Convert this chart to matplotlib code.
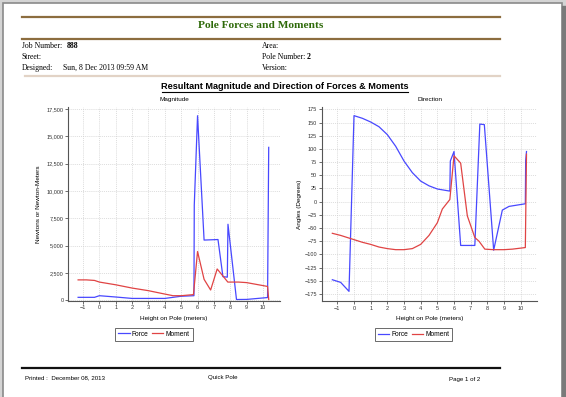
import matplotlib
matplotlib.use("Agg")
import matplotlib.pyplot as plt
from matplotlib.patches import Rectangle
from matplotlib.ticker import FuncFormatter, MultipleLocator

# ---------------- data ----------------
mag_force_x = [-1.3, -0.3, 0.0, 1.0, 2.0, 3.0, 4.0, 5.0, 5.78, 5.8, 6.0, 6.4, 7.25, 7.55, 7.82, 7.86, 8.38, 9.0, 10.28, 10.35]
mag_force_y = [250, 250, 400, 280, 150, 150, 150, 350, 400, 8700, 16900, 5500, 5550, 2150, 2100, 6950, 50, 60, 230, 14000]

mag_moment_x = [-1.3, -0.8, -0.3, 0.0, 1.0, 2.0, 3.0, 4.0, 4.5, 5.0, 5.75, 6.0, 6.4, 6.8, 7.2, 7.5, 7.85, 8.5, 9.0, 10.28, 10.35]
mag_moment_y = [1850, 1850, 1800, 1650, 1400, 1100, 860, 550, 400, 400, 500, 4450, 1900, 920, 2850, 2300, 1650, 1650, 1600, 1250, 50]

dir_force_x = [-1.3, -0.8, -0.3, 0.0, 0.5, 1.0, 1.5, 2.0, 2.5, 3.0, 3.5, 4.0, 4.5, 5.0, 5.75, 5.78, 6.0, 6.4, 7.25, 7.55, 7.82, 8.38, 8.9, 9.3, 10.28, 10.3, 10.35]
dir_force_y = [-148, -153, -170, 163, 158, 151, 142, 127, 105, 77, 55, 39, 30, 24, 20, 77, 95, -83, -83, 147, 146, -92, -16, -9, -4, 78, 95]

dir_moment_x = [-1.3, -0.8, -0.3, 0.0, 0.5, 1.0, 1.5, 2.0, 2.5, 3.0, 3.5, 4.0, 4.5, 5.0, 5.3, 5.75, 6.0, 6.4, 6.8, 7.25, 7.5, 7.85, 8.35, 9.0, 9.5, 10.28, 10.35]
dir_moment_y = [-60, -64, -69, -72, -77, -81, -86, -89, -91, -91, -89, -81, -64, -40, -14, 4, 87, 73, -27, -68, -75, -90, -91, -91, -90, -87, 90]

x_ticks = [-1, 0, 1, 2, 3, 4, 5, 6, 7, 8, 9, 10]
series_names = ["Force", "Moment"]

BLUE = "#4848ff"
RED = "#e04444"
W, H = 566, 397

fig = plt.figure(figsize=(W / 100, H / 100), dpi=100)
fig.patch.set_facecolor("white")

# page overlay in pixel coordinates
bg = fig.add_axes([0, 0, 1, 1])
bg.set_xlim(0, W)
bg.set_ylim(H, 0)
bg.axis("off")
bg.set_zorder(-5)
bg.add_patch(Rectangle((0, 0), W, H, color="#d4d4d4", zorder=0))
bg.add_patch(Rectangle((2.5, 2.5), 559, H, facecolor="white", edgecolor="#8a8a8a", lw=1.2, zorder=1))
bg.add_patch(Rectangle((562, 6), 4, H, color="#7a7a7a", zorder=1))

# header lines
bg.plot([22, 500], [17, 17], color="#8c6d3f", lw=1.6, zorder=2)
bg.plot([22, 500], [39, 39], color="#8c6d3f", lw=1.6, zorder=2)
bg.plot([25, 500], [76, 76], color="#e2d3c6", lw=1.6, zorder=2)
bg.plot([22, 500], [368, 368], color="#111111", lw=1.6, zorder=2)

serif = ["Liberation Serif", "DejaVu Serif"]
sans = ["Liberation Sans", "DejaVu Sans"]
bg.text(261, 26, "Pole Forces and Moments", family=serif, fontsize=8.2, weight="bold",
        color="#2f6a0a", ha="center", va="center", zorder=3)
hs = 5.6
bg.text(22, 46, "Job Number:", family=serif, fontsize=hs, va="center", zorder=3)
bg.text(67, 46, "888", family=serif, fontsize=hs, weight="bold", va="center", zorder=3)
bg.text(22, 57, "Street:", family=serif, fontsize=hs, va="center", zorder=3)
bg.text(22, 68, "Designed:", family=serif, fontsize=hs, va="center", zorder=3)
bg.text(63, 68, "Sun, 8 Dec 2013 09:59 AM", family=serif, fontsize=hs, va="center", zorder=3)
bg.text(262, 46, "Area:", family=serif, fontsize=hs, va="center", zorder=3)
bg.text(262, 57, "Pole Number:", family=serif, fontsize=hs, va="center", zorder=3)
bg.text(307, 57, "2", family=serif, fontsize=hs, weight="bold", va="center", zorder=3)
bg.text(262, 68, "Version:", family=serif, fontsize=hs, va="center", zorder=3)

bg.text(285, 86.5, "Resultant Magnitude and Direction of Forces & Moments", family=sans,
        fontsize=6.6, weight="bold", ha="center", va="center", zorder=3)
bg.plot([162, 408], [91.5, 91.5], color="black", lw=0.8, zorder=3)

bg.text(25, 378, "Printed :  December 08, 2013", family=sans, fontsize=4.4, va="center", zorder=3)
bg.text(208, 378, "Quick Pole", family=sans, fontsize=4.4, va="center", zorder=3)
bg.text(449, 380, "Page 1 of 2", family=sans, fontsize=4.4, va="center", zorder=3)


def style_axes(ax):
    ax.set_facecolor("none")
    for s in ["top", "right"]:
        ax.spines[s].set_visible(False)
    for s in ["left", "bottom"]:
        ax.spines[s].set_color("#555555")
        ax.spines[s].set_linewidth(0.8)
    ax.tick_params(axis="both", labelsize=4.0, length=2, width=0.6, color="#555555",
                   pad=1.5, labelcolor="#333333")
    for lbl in ax.get_xticklabels() + ax.get_yticklabels():
        lbl.set_family(sans)
    ax.grid(True, color="#d0d0d0", linestyle=(0, (1.5, 1.5)), linewidth=0.5)
    ax.set_axisbelow(True)
    ax.set_xticks(x_ticks)


def px_axes(left, right, top, bottom):
    return fig.add_axes([left / W, 1 - bottom / H, (right - left) / W, (bottom - top) / H])


def add_legend(ax, xc):
    leg = ax.legend(loc="upper center", bbox_to_anchor=(xc, -0.14), ncol=2, frameon=True,
                    fancybox=False, prop={"family": sans, "size": 4.8}, handlelength=1.7,
                    handletextpad=0.35, columnspacing=0.5, borderpad=0.45, borderaxespad=0)
    leg.get_frame().set_edgecolor("#444444")
    leg.get_frame().set_linewidth(0.7)


# Magnitude
ax1 = px_axes(68.3, 280, 107, 300.5)
ax1.plot(mag_force_x, mag_force_y, color=BLUE, lw=0.9, label=series_names[0])
ax1.plot(mag_moment_x, mag_moment_y, color=RED, lw=0.9, label=series_names[1])
ax1.set_xlim(-1.9, 11.04)
ax1.set_ylim(-40, 17700)
ax1.yaxis.set_major_locator(MultipleLocator(2500))
ax1.yaxis.set_major_formatter(FuncFormatter(lambda v, p: f"{int(v):,}"))
style_axes(ax1)
ax1.set_title("Magnitude", family=sans, fontsize=4.6, pad=4)
ax1.set_xlabel("Height on Pole (meters)", family=sans, fontsize=4.6, labelpad=4)
ax1.set_ylabel("Newtons or Newton-Meters", family=sans, fontsize=4.6, labelpad=4)
add_legend(ax1, 0.405)

# Direction
ax2 = px_axes(322, 537, 107, 301)
ax2.plot(dir_force_x, dir_force_y, color=BLUE, lw=0.9, label=series_names[0])
ax2.plot(dir_moment_x, dir_moment_y, color=RED, lw=0.9, label=series_names[1])
ax2.set_xlim(-1.92, 10.98)
ax2.set_ylim(-188.3, 179.4)
style_axes(ax2)
ax2.set_yticks(list(range(-175, 176, 25)))
ax2.set_title("Direction", family=sans, fontsize=4.6, pad=4)
ax2.set_xlabel("Height on Pole (meters)", family=sans, fontsize=4.6, labelpad=4)
ax2.set_ylabel("Angles (Degrees)", family=sans, fontsize=4.6, labelpad=2)
add_legend(ax2, 0.426)

fig.savefig("out.png", dpi=100)
